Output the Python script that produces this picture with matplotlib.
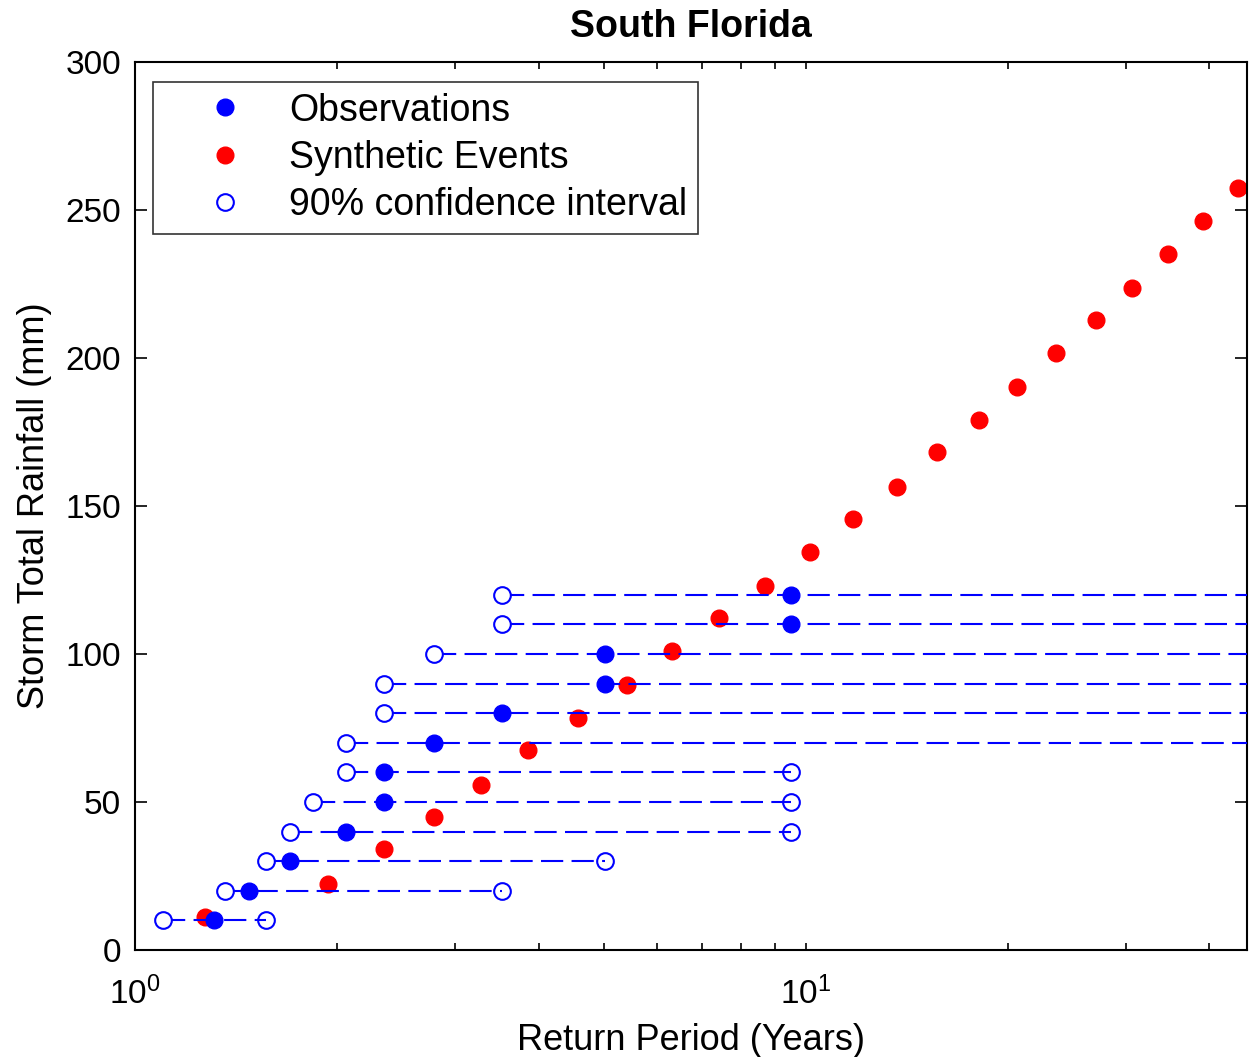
import numpy as np
import matplotlib.pyplot as plt
from matplotlib.lines import Line2D
from matplotlib.ticker import NullFormatter

plt.rcParams['font.family'] = ['Liberation Sans', 'DejaVu Sans']
plt.rcParams['mathtext.fontset'] = 'custom'
plt.rcParams['mathtext.rm'] = 'Liberation Sans'
plt.rcParams['lines.scale_dashes'] = False

# observed storms: rainfall (mm) and empirical return period (years)
obs_rainfall = [10, 20, 30, 40, 50, 60, 70, 80, 90, 100, 110, 120]
obs_period = [1.31, 1.48, 1.70, 2.06, 2.35, 2.35, 2.79, 3.53, 5.02, 5.02, 9.5, 9.5]
# 90% confidence bounds on the return period (upper ones past 45 yr run off the plot)
ci_lower = [1.10, 1.36, 1.57, 1.70, 1.84, 2.06, 2.06, 2.35, 2.35, 2.79, 3.53, 3.53]
ci_upper = [1.57, 3.53, 5.02, 9.5, 9.5, 9.5, 100, 100, 100, 100, 100, 100]

# synthetic events
syn_period = [1.27, 1.94, 2.35, 2.79, 3.28, 3.85, 4.58, 5.41, 6.31, 7.42, 8.70,
              10.15, 11.76, 13.67, 15.69, 18.12, 20.65, 23.6, 27.1, 30.7, 34.7,
              39.1, 44.15]
syn_rainfall = [11.3, 22.4, 34.1, 44.9, 55.7, 67.6, 78.3, 89.5, 101.1, 112.1, 123.0,
                134.6, 145.6, 156.4, 168.2, 179.1, 190.2, 201.7, 212.8, 223.6, 235.1,
                246.3, 257.4]

fig = plt.figure(figsize=(12.49, 10.57), dpi=100)
ax = fig.add_axes([0.1081, 0.1012, 0.8903, 0.8401])

ms = 12
ax.plot(syn_period, syn_rainfall, 'o', color='r', ms=ms, mec='r', zorder=2)

for lo, hi, y in zip(ci_lower, ci_upper, obs_rainfall):
    ax.plot([lo, hi], [y, y], color='b', ls='--', dashes=(16, 6), lw=1.5, zorder=3)

ax.plot(obs_period, obs_rainfall, 'o', color='b', ms=ms, mec='b', zorder=4)
ax.plot(ci_lower, obs_rainfall, 'o', mfc='w', mec='b', mew=1.5, ms=ms, zorder=5)
ax.plot(ci_upper, obs_rainfall, 'o', mfc='none', mec='b', mew=1.5, ms=ms, zorder=5)

ax.set_xscale('log')
ax.set_xlim(1, 45.5)
ax.set_ylim(0, 300)
ax.set_yticks(np.arange(0, 301, 50))
ax.xaxis.set_minor_formatter(NullFormatter())

ax.tick_params(which='both', direction='in', top=True, right=True, width=1.2)
ax.tick_params(axis='y', length=8.6, pad=10, labelsize=24)
ax.tick_params(axis='x', which='both', length=5, pad=19, labelsize=24)
for s in ax.spines.values():
    s.set_linewidth(1.5)

ax.set_xlabel('Return Period (Years)', fontsize=26, labelpad=9)
ax.set_ylabel('Storm Total Rainfall (mm)', fontsize=26, labelpad=10)
ax.set_title('South Florida', fontsize=27, fontweight='bold', pad=18)

handles = [
    Line2D([], [], ls='none', marker='o', color='b', ms=ms),
    Line2D([], [], ls='none', marker='o', color='r', ms=ms),
    Line2D([], [], ls='none', marker='o', mfc='w', mec='b', mew=1.5, ms=ms),
]
labels = ['Observations', 'Synthetic Events', '90% confidence interval']
leg = ax.legend(handles, labels, loc='upper left', bbox_to_anchor=(0.0162, 0.9775),
                borderaxespad=0, fontsize=27, frameon=True, fancybox=False,
                edgecolor='k', borderpad=0.28, handlelength=3.27, handletextpad=0.08,
                labelspacing=0.3)
leg.get_frame().set_linewidth(1.2)

fig.savefig('out.png', dpi=100)
